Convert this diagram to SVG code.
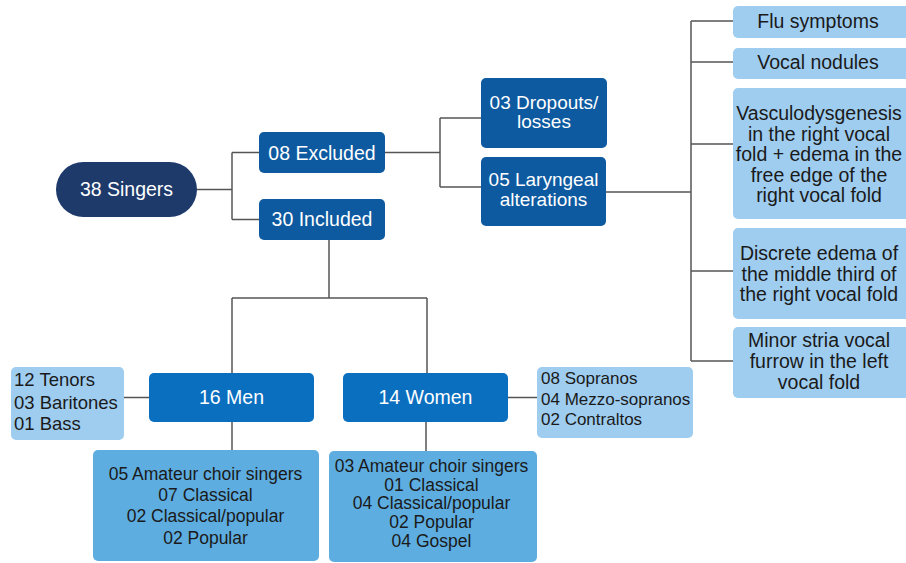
<svg xmlns="http://www.w3.org/2000/svg" width="906" height="563" viewBox="0 0 906 563">
<style>
.t{font-family:"Liberation Sans",Arial,sans-serif;}
.w{fill:#ffffff;}
.k{fill:#1a1a1a;}
.c{text-anchor:middle;}
.navy{fill:#1d3a6b;}
.mid{fill:#0d5aa0;}
.bright{fill:#0b6fc0;}
.light{fill:#9fcdf0;}
.med{fill:#5eade0;}
.ln{fill:none;stroke:#555555;stroke-width:1.5;}
</style>
<rect width="906" height="563" fill="#ffffff"/>
<g id="connectors">
<path class="ln" d="M197,189.5 H232 M232,152.5 V219.5 M232,152.5 H259 M232,219.5 H259"/>
<path class="ln" d="M385,152.5 H440 M440,118 V187 M440,118 H481 M440,187 H481"/>
<path class="ln" d="M606,192 H691 M691,21 V361 M691,21 H733 M691,62 H733 M691,144 H733 M691,271 H733 M691,361 H733"/>
<path class="ln" d="M329,240 V298 M232,298 H427 M232,298 V373 M427,298 V373"/>
<path class="ln" d="M124,397.5 H149 M508,397.5 H537"/>
<path class="ln" d="M232,422 V450 M426,422 V451"/>
</g>
<g id="singers">
<rect class="navy" x="56" y="162" width="141" height="55" rx="27.5"/>
<text class="t w c" x="126.5" y="196" font-size="19.5">38 Singers</text>
</g>
<g id="excluded">
<rect class="mid" x="259" y="132" width="126" height="41" rx="5"/>
<text class="t w c" x="322" y="159.5" font-size="19.5">08 Excluded</text>
</g>
<g id="included">
<rect class="mid" x="259" y="199" width="126" height="41" rx="5"/>
<text class="t w c" x="322" y="225.5" font-size="19.5">30 Included</text>
</g>
<g id="dropouts">
<rect class="mid" x="481" y="78" width="126" height="70" rx="5"/>
<text class="t w c" x="544" y="108.5" font-size="19">03 Dropouts/</text>
<text class="t w c" x="544" y="128" font-size="19">losses</text>
</g>
<g id="laryngeal">
<rect class="mid" x="481" y="157" width="125" height="69" rx="5"/>
<text class="t w c" x="543.5" y="186" font-size="19">05 Laryngeal</text>
<text class="t w c" x="543.5" y="205.5" font-size="19">alterations</text>
</g>
<g id="flu">
<rect class="light" x="733" y="6" width="185" height="32" rx="5"/>
<text class="t k c" x="818" y="28" font-size="19.5">Flu symptoms</text>
</g>
<g id="nodules">
<rect class="light" x="733" y="48" width="185" height="31" rx="5"/>
<text class="t k c" x="818" y="69" font-size="19.5">Vocal nodules</text>
</g>
<g id="vasculo">
<rect class="light" x="733" y="88" width="185" height="131" rx="5"/>
<text class="t k c" x="819" y="120" font-size="19.5">Vasculodysgenesis</text>
<text class="t k c" x="819" y="140.5" font-size="19.5">in the right vocal</text>
<text class="t k c" x="819" y="161" font-size="19.5">fold + edema in the</text>
<text class="t k c" x="819" y="181.5" font-size="19.5">free edge of the</text>
<text class="t k c" x="819" y="202" font-size="19.5">right vocal fold</text>
</g>
<g id="discrete">
<rect class="light" x="733" y="228" width="185" height="91" rx="5"/>
<text class="t k c" x="819" y="259.5" font-size="19.5">Discrete edema of</text>
<text class="t k c" x="819" y="280.5" font-size="19.5">the middle third of</text>
<text class="t k c" x="819" y="301" font-size="19.5">the right vocal fold</text>
</g>
<g id="minor">
<rect class="light" x="733" y="327" width="185" height="71" rx="5"/>
<text class="t k c" x="819" y="347" font-size="19.5">Minor stria vocal</text>
<text class="t k c" x="819" y="368" font-size="19.5">furrow in the left</text>
<text class="t k c" x="819" y="389" font-size="19.5">vocal fold</text>
</g>
<g id="men">
<rect class="bright" x="149" y="373" width="165" height="49" rx="5"/>
<text class="t w c" x="231.5" y="404" font-size="19.5">16 Men</text>
</g>
<g id="women">
<rect class="bright" x="343" y="373" width="165" height="49" rx="5"/>
<text class="t w c" x="425.5" y="404" font-size="19.5">14 Women</text>
</g>
<g id="men-voices">
<rect class="light" x="11" y="367" width="113" height="73" rx="5"/>
<text class="t k" x="14" y="386" font-size="18.5">12 Tenors</text>
<text class="t k" x="14" y="408.5" font-size="18.5">03 Baritones</text>
<text class="t k" x="14" y="430" font-size="18.5">01 Bass</text>
</g>
<g id="women-voices">
<rect class="light" x="537" y="367" width="156" height="71" rx="5"/>
<text class="t k" x="541" y="384" font-size="17">08 Sopranos</text>
<text class="t k" x="541" y="405" font-size="17">04 Mezzo-sopranos</text>
<text class="t k" x="541" y="425" font-size="17">02 Contraltos</text>
</g>
<g id="men-styles">
<rect class="med" x="93" y="450" width="226" height="111" rx="5"/>
<text class="t k c" x="205.5" y="479.5" font-size="17.5">05 Amateur choir singers</text>
<text class="t k c" x="205.5" y="500.5" font-size="17.5">07 Classical</text>
<text class="t k c" x="205.5" y="522" font-size="17.5">02 Classical/popular</text>
<text class="t k c" x="205.5" y="543.5" font-size="17.5">02 Popular</text>
</g>
<g id="women-styles">
<rect class="med" x="329" y="451" width="208" height="111" rx="5"/>
<text class="t k c" x="431.5" y="472" font-size="17.5">03 Amateur choir singers</text>
<text class="t k c" x="431.5" y="490.5" font-size="17.5">01 Classical</text>
<text class="t k c" x="431.5" y="509" font-size="17.5">04 Classical/popular</text>
<text class="t k c" x="431.5" y="528" font-size="17.5">02 Popular</text>
<text class="t k c" x="431.5" y="546.5" font-size="17.5">04 Gospel</text>
</g>
</svg>
